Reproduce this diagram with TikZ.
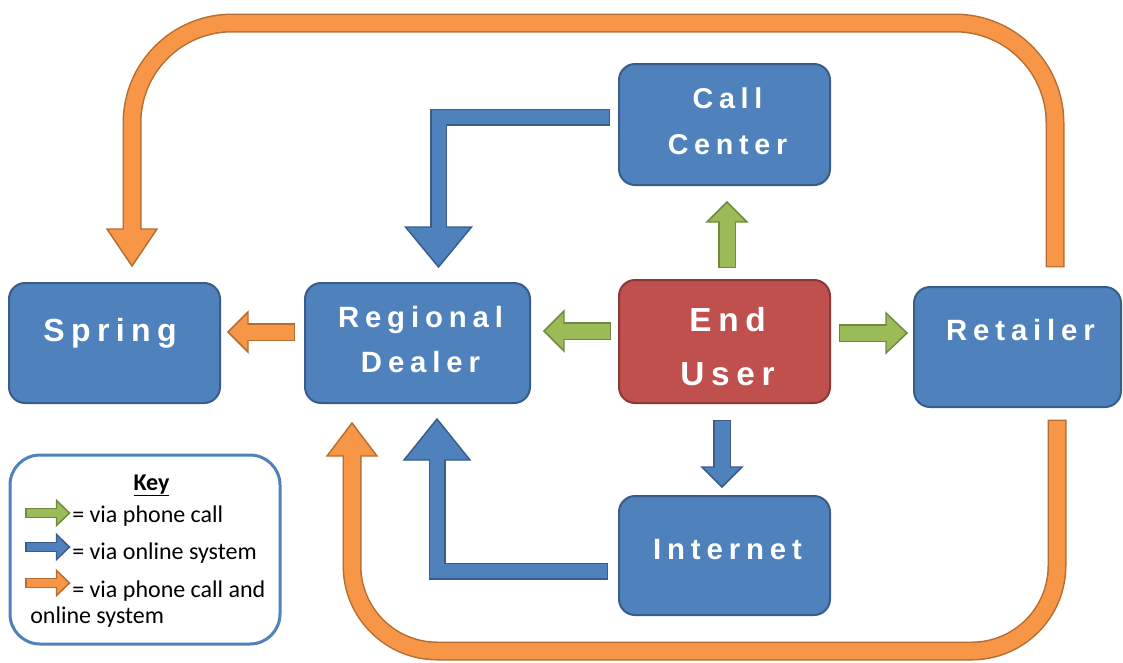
\documentclass[tikz,border=0pt]{standalone}
\usepackage{fontspec}
\usetikzlibrary{calc}
\newfontfamily\boxfont{Liberation Sans}[LetterSpace=20]
\newfontfamily\keyfont{Carlito}
\definecolor{bfill}{HTML}{4F81BD}
\definecolor{bline}{HTML}{385D8A}
\definecolor{rfill}{HTML}{C0504D}
\definecolor{rline}{HTML}{8C3836}
\definecolor{gfill}{HTML}{9BBB59}
\definecolor{gline}{HTML}{71893F}
\definecolor{ofill}{HTML}{F79646}
\definecolor{oline}{HTML}{B66D31}
% #1 fill, #2 border, #3 inner shaft width, #4 outer shaft width, #5 head half width, #6 path tail->base, #7 base, #8 tip
\newcommand\blockarrow[8]{%
  \draw[#2, line width=#4, line join=miter, shorten <=-1.1pt] #6;
  \filldraw[fill=#1, draw=#2, line width=1.1pt, line join=miter]
    ($(#7)!#5!90:(#8)$) -- (#8) -- ($(#7)!#5!-90:(#8)$) -- cycle;
  \draw[#1, line width=#3, line join=miter, shorten >=-2pt] #6;
}
\tikzset{
  box/.style 2 args={draw=bline, fill=bfill, line width=1.5pt, rounded corners=12pt,
    minimum width=#1*0.75pt, minimum height=#2*0.75pt, inner sep=0pt},
  lbl/.style={text=white, align=center, inner sep=0pt},
  keytxt/.style={font=\keyfont\fontsize{18}{19.5}\selectfont, inner sep=0pt, anchor=base west}
}
\begin{document}
\begin{tikzpicture}[x=0.75pt, y=-0.75pt]
\useasboundingbox (0,0) rectangle (1123,662);

% boxes
\node[box={211}{120}] (sp) at (114.5,343) {};
\node[box={225}{120}] (rd) at (417.5,343) {};
\node[box={211}{123}, draw=rline, fill=rfill] (eu) at (724.5,341.5) {};
\node[box={207}{120}] (rt) at (1017.5,347) {};
\node[box={211}{121}] (cc) at (724.5,124.5) {};
\node[box={211}{119}] (in) at (724.5,555.5) {};

% box texts
\node[lbl, font=\boxfont\bfseries\fontsize{24}{34}\selectfont] (spt) at (110,333.6) {Spring};
\node[lbl, font=\boxfont\bfseries\fontsize{22}{34}\selectfont] (rdt) at (420.5,339.8) {Regional\\Dealer};
\node[lbl, font=\boxfont\bfseries\fontsize{25}{40}\selectfont] (eut) at (727.5,346.5) {End\\User};
\node[lbl, font=\boxfont\bfseries\fontsize{22}{34}\selectfont] (rtt) at (1020.5,330.5) {Retailer};
\node[lbl, font=\boxfont\bfseries\fontsize{21.5}{34.5}\selectfont] (cct) at (727.5,121.7) {Call\\Center};
\node[lbl, font=\boxfont\bfseries\fontsize{22}{34}\selectfont] (intx) at (727.5,549.5) {Internet};

% key box
\node[draw=bfill, fill=white, line width=2.25pt, rounded corners=22.5pt,
      minimum width=270*0.75pt, minimum height=189*0.75pt, inner sep=0pt] (key) at (145,549.5) {};
\node[font=\keyfont\bfseries\fontsize{18}{19.5}\selectfont, inner sep=0pt, anchor=base] (keyt) at (151.5,490) {\underline{Key}};
\node[keytxt] (k1) at (72,522) {= via phone call};
\node[keytxt] (k2) at (72,559) {= via online system};
\node[keytxt] (k3) at (72,597) {= via phone call and};
\node[keytxt] (k4) at (30,623) {online system};

% coordinates
\coordinate (gu1) at ($(eu.north)+(2.5,-12)$);
\coordinate (gu2) at ($(cc.south)+(2.5,36)$);
\coordinate (gu3) at ($(cc.south)+(2.5,16)$);
\coordinate (gl1) at ($(eu.west)+(-8,-10.5)$);
\coordinate (gl2) at ($(rd.east)+(33,-12)$);
\coordinate (gl3) at ($(rd.east)+(13,-12)$);
\coordinate (gr1) at ($(eu.east)+(9,-8.5)$);
\coordinate (gr2) at ($(rt.west)+(-27,-14)$);
\coordinate (gr3) at ($(rt.west)+(-6,-14)$);
\coordinate (bd1) at ($(eu.south)+(-2.5,17)$);
\coordinate (bd2) at ($(in.north)+(-2.5,-28)$);
\coordinate (bd3) at ($(in.north)+(-2.5,-8)$);
\coordinate (ol1) at ($(rd.west)+(-10,-11)$);
\coordinate (ol2) at ($(sp.east)+(27,-11)$);
\coordinate (ol3) at ($(sp.east)+(7,-11)$);
\coordinate (bt1) at ($(cc.west)+(-9,-7.5)$);
\coordinate (bt2) at ($(rd.north)+(21,-55)$);
\coordinate (bt3) at ($(rd.north)+(21,-15)$);
\coordinate (bb1) at ($(in.west)+(-11,15.5)$);
\coordinate (bb2) at ($(rd.south)+(19.5,56)$);
\coordinate (bb3) at ($(rd.south)+(19.5,15)$);
\coordinate (ot1) at ($(rt.north)+(37.5,-20)$);
\coordinate (otop) at (600,23);
\coordinate (ot2) at ($(sp.north)+(17.5,-53)$);
\coordinate (ot3) at ($(sp.north)+(17.5,-16)$);
\coordinate (ob1) at ($(rt.south)+(39.5,13)$);
\coordinate (obot) at (700,651);
\coordinate (ob2) at ($(rd.south)+(-65.5,52)$);
\coordinate (ob3) at ($(rd.south)+(-65.5,19)$);

% short arrows
\blockarrow{gfill}{gline}{11.25pt}{13.5pt}{15pt}{(gu1) -- (gu2)}{gu2}{gu3}
\blockarrow{gfill}{gline}{11.25pt}{13.5pt}{15pt}{(gl1) -- (gl2)}{gl2}{gl3}
\blockarrow{gfill}{gline}{11.25pt}{13.5pt}{15pt}{(gr1) -- (gr2)}{gr2}{gr3}
\blockarrow{bfill}{bline}{11.25pt}{13.5pt}{15pt}{(bd1) -- (bd2)}{bd2}{bd3}
\blockarrow{ofill}{oline}{11.25pt}{13.5pt}{15pt}{(ol1) -- (ol2)}{ol2}{ol3}

% elbow arrows
\blockarrow{bfill}{bline}{10.5pt}{12.75pt}{24.75pt}{(bt1) -| (bt2)}{bt2}{bt3}
\blockarrow{bfill}{bline}{10.5pt}{12.75pt}{24.75pt}{(bb1) -| (bb2)}{bb2}{bb3}

% loop arrows
\blockarrow{ofill}{oline}{12pt}{14.25pt}{18.75pt}{[rounded corners=75pt] (ot1) -- (ot1 |- otop) -- (ot2 |- otop) -- (ot2)}{ot2}{ot3}
\blockarrow{ofill}{oline}{12pt}{14.25pt}{18.75pt}{[rounded corners=64pt] (ob1) -- (ob1 |- obot) -- (ob2 |- obot) -- (ob2)}{ob2}{ob3}

% key icons
\coordinate (kg1) at ($(key.west)+(18,-36.5)$);
\coordinate (kg2) at ($(key.west)+(48,-36.5)$);
\coordinate (kg3) at ($(key.west)+(61,-36.5)$);
\coordinate (kb1) at ($(key.west)+(18,-2.5)$);
\coordinate (kb2) at ($(key.west)+(48,-2.5)$);
\coordinate (kb3) at ($(key.west)+(61,-2.5)$);
\coordinate (ko1) at ($(key.west)+(18,33.5)$);
\coordinate (ko2) at ($(key.west)+(48,33.5)$);
\coordinate (ko3) at ($(key.west)+(61,33.5)$);
\blockarrow{gfill}{gline}{6pt}{7.5pt}{9.4pt}{(kg1) -- (kg2)}{kg2}{kg3}
\blockarrow{bfill}{bline}{6pt}{7.5pt}{9.4pt}{(kb1) -- (kb2)}{kb2}{kb3}
\blockarrow{ofill}{oline}{6pt}{7.5pt}{9.4pt}{(ko1) -- (ko2)}{ko2}{ko3}
\end{tikzpicture}
\end{document}
